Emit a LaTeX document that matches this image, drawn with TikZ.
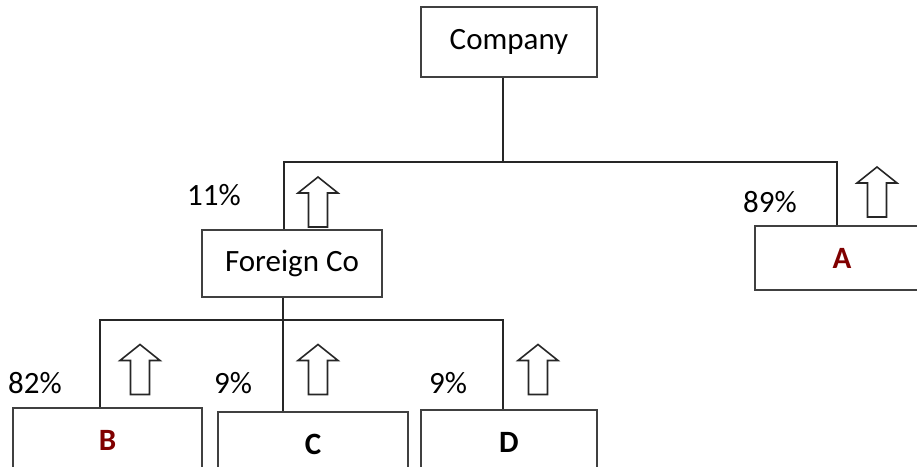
\documentclass[tikz,border=0pt]{standalone}
\usepackage{fontspec}
\setmainfont{Carlito}
\begin{document}
\begin{tikzpicture}[x=1pt,y=-1pt,
  font=\fontsize{31}{36}\selectfont,
  box/.style={draw=black!75,line width=1.4pt,fill=white,inner sep=0pt,
    minimum width=#1,minimum height=66},
  link/.style={draw=black!85,line width=1.8pt},
  share/.style={inner sep=0pt,anchor=center},
  arrowline/.style={draw=black!85,line width=1.6pt,line join=miter},
  uparrow/.pic={\draw[arrowline] (-9.5,25) -- (-9.5,-9) -- (-20,-9) -- (0,-25)
     -- (20,-9) -- (9.5,-9) -- (9.5,25) -- cycle;},
  letter/.style={font=\fontsize{31}{36}\selectfont\bfseries},
  entity/.style={letter,text=red!50!black}]
\useasboundingbox (0,0) rectangle (917,466);
\clip (0,0) rectangle (917,466);

% entities
\node[box=176,minimum height=70] (company) at (509,42) {Company};
\node[box=180,minimum height=67] (foreign) at (292,263.5) {Foreign Co};
\node[box=174,minimum height=64] (a) at (842,258) {};
\node[entity] (atext) at (a.center) {A};
\node[box=189,minimum height=64] (b) at (107.5,440) {};
\node[entity] (btext) at (b.center) {B};
\node[box=190,minimum height=64] (c) at (313,444) {};
\node[letter] (ctext) at (c.center) {C};
\node[box=176,minimum height=64] (d) at (509,442) {};
\node[letter] (dtext) at (d.center) {D};

% ownership tree, upper level
\coordinate (top) at (503,162);
\coordinate (tl) at (284,162);
\coordinate (tr) at (837,162);
\draw[link] (top |- company.south) -- (top);
\draw[link] (foreign.north -| tl) -- (tl) -- (tr) -- (tr |- a.north);

% ownership tree, lower level
\coordinate (bl) at (100,320);
\coordinate (bm) at (283,320);
\coordinate (br) at (503,320);
\draw[link] (b.north -| bl) -- (bl) -- (br) -- (br |- d.north);
\draw[link] (foreign.south -| bm) -- (c.north -| bm);

% income flow arrows
\pic at (318,202) {uparrow};
\pic at (877,192) {uparrow};
\pic at (140,369.5) {uparrow};
\pic at (318,369.5) {uparrow};
\pic at (538,369.5) {uparrow};

% holding percentages
\node[share] (p11) at (214,195) {11\%};
\node[share] (p89) at (770,202) {89\%};
\node[share] (p82) at (35,383) {82\%};
\node[share] (p9c) at (233,383) {9\%};
\node[share] (p9d) at (448,383) {9\%};
\end{tikzpicture}
\end{document}
